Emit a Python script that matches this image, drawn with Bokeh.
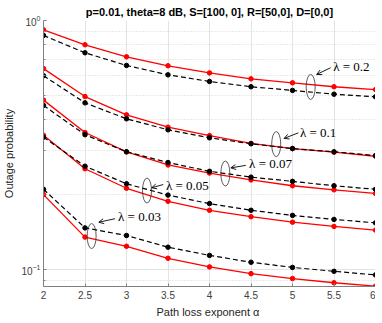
from bokeh.plotting import figure
from bokeh.models import FixedTicker, Arrow, OpenHead, Range1d
from bokeh.core.properties import value
from bokeh.embed import file_html
from bokeh.resources import INLINE

alpha = [2, 2.5, 3, 3.5, 4, 4.5, 5, 5.5, 6]

# simulation (red, solid) and analysis (black, dashed) per lambda
red_02 = [0.917, 0.799, 0.715, 0.658, 0.616, 0.583, 0.562, 0.542, 0.528]
blk_02 = [0.871, 0.742, 0.660, 0.605, 0.569, 0.542, 0.524, 0.506, 0.494]
red_01 = [0.641, 0.495, 0.418, 0.373, 0.345, 0.321, 0.306, 0.296, 0.285]
blk_01 = [0.600, 0.467, 0.403, 0.364, 0.338, 0.320, 0.306, 0.297, 0.287]
red_007 = [0.479, 0.355, 0.297, 0.263, 0.244, 0.229, 0.217, 0.209, 0.202]
blk_007 = [0.456, 0.348, 0.297, 0.269, 0.248, 0.235, 0.226, 0.217, 0.210]
red_005 = [0.346, 0.254, 0.212, 0.188, 0.173, 0.163, 0.155, 0.149, 0.144]
blk_005 = [0.340, 0.260, 0.221, 0.199, 0.184, 0.173, 0.165, 0.159, 0.154]
red_003 = [0.200, 0.135, 0.124, 0.111, 0.1025, 0.0963, 0.092, 0.0885, 0.0857]
blk_003 = [0.210, 0.147, 0.137, 0.123, 0.114, 0.107, 0.102, 0.0984, 0.0952]

red_series = [red_02, red_01, red_007, red_005, red_003]
blk_series = [blk_02, blk_01, blk_007, blk_005, blk_003]

# annotations: label, text pos, arrow start, arrow end, ellipse centre (data coords)
ann_labels = ["λ = 0.2", "λ = 0.1", "λ = 0.07", "λ = 0.05", "λ = 0.03"]
ann_text = [(5.49, 0.655), (5.09, 0.354), (4.477, 0.266), (3.475, 0.2175), (2.898, 0.163)]
ann_arrow_start = [(5.459, 0.646), (5.071, 0.354), (4.437, 0.262), (3.443, 0.2195), (2.862, 0.160)]
ann_arrow_end = [(5.291, 0.607), (4.898, 0.336), (4.257, 0.256), (3.303, 0.2130), (2.666, 0.1549)]
ann_ellipse = [(5.219, 0.541), (4.804, 0.319), (4.191, 0.243), (3.247, 0.2076), (2.580, 0.1363)]

x_ticks = [2, 2.5, 3, 3.5, 4, 4.5, 5, 5.5, 6]
x_tick_labels = ["2", "2.5", "3", "3.5", "4", "4.5", "5", "5.5", "6"]
y_ticks = [0.1, 1.0]
y_minor = [0.09, 0.2, 0.3, 0.4, 0.5, 0.6, 0.7, 0.8, 0.9]

FONT = "Liberation Sans"

p = figure(frame_width=332, frame_height=266, y_axis_type="log",
           x_range=Range1d(2, 6), y_range=Range1d(0.0855, 1.0),
           output_backend="svg", toolbar_location=None,
           title="p=0.01, theta=8 dB, S=[100, 0], R=[50,0], D=[0,0]",
           min_border_left=0, min_border_right=0, min_border_top=0, min_border_bottom=0)

p.title.align = "center"
p.title.text_font = FONT
p.title.text_font_size = "11px"
p.title.text_font_style = "bold"
p.title.text_color = "#000000"
p.title.standoff = 6
p.title.offset = 0

p.outline_line_color = None
p.background_fill_color = "white"
p.border_fill_color = "white"

# axes
p.xaxis.ticker = FixedTicker(ticks=x_ticks)
p.xaxis.major_label_overrides = {t: l for t, l in zip(x_ticks, x_tick_labels)}
p.yaxis.ticker = FixedTicker(ticks=y_ticks, minor_ticks=y_minor)
for ax in (p.xaxis, p.yaxis):
    ax.axis_line_color = "#808080"
    ax.major_tick_line_color = "#808080"
    ax.minor_tick_line_color = "#808080"
    ax.major_tick_in = 3
    ax.major_tick_out = 0
    ax.minor_tick_in = 2
    ax.minor_tick_out = 0
    ax.major_label_text_font = FONT
    ax.major_label_text_font_size = "10px"
    ax.major_label_text_color = "#404040"
    ax.axis_label_text_font = FONT
    ax.axis_label_text_font_size = "11px"
    ax.axis_label_text_font_style = "normal"
    ax.axis_label_text_color = "#262626"
p.xaxis.major_label_standoff = 4
p.xaxis.axis_label_standoff = 4
p.yaxis.major_label_standoff = 3
p.yaxis.axis_label_standoff = 3
p.xaxis.axis_label = "Path loss exponent  α"
p.yaxis.axis_label = "Outage probability"

p.xgrid.grid_line_color = "#e3e3e3"
p.ygrid.grid_line_color = "#e3e3e3"
p.ygrid.minor_grid_line_color = "#d5d5d5"
p.ygrid.minor_grid_line_dash = "1 2"

for r in red_series:
    p.line(alpha, r, line_color="#ff0000", line_width=1.3)
    p.scatter(alpha, r, size=4.5, fill_color="#ff0000", line_color="#ff0000")
for b in blk_series:
    p.line(alpha, b, line_color="#000000", line_width=1.2, line_dash="5 3")
    p.scatter(alpha, b, size=4.5, fill_color="#000000", line_color="#000000")

for lab, (tx, ty), (sx, sy), (ex, ey), (cx, cy) in zip(ann_labels, ann_text, ann_arrow_start, ann_arrow_end, ann_ellipse):
    p.ellipse(x=[cx], y=[cy], width=9, height=25, width_units="screen", height_units="screen",
              fill_color=None, line_color="#333333", line_width=0.8)
    p.add_layout(Arrow(x_start=sx, y_start=sy, x_end=ex, y_end=ey, line_color="#000000", line_width=0.9,
                       end=OpenHead(size=5, line_color="#000000", line_width=0.9)))
    p.text(x=[tx], y=[ty], text=[lab], text_font=value("Liberation Serif"), text_font_size="13px",
           text_baseline="middle", text_align="left", text_color="#000000")

open("out.html", "w").write(file_html(p, INLINE))
